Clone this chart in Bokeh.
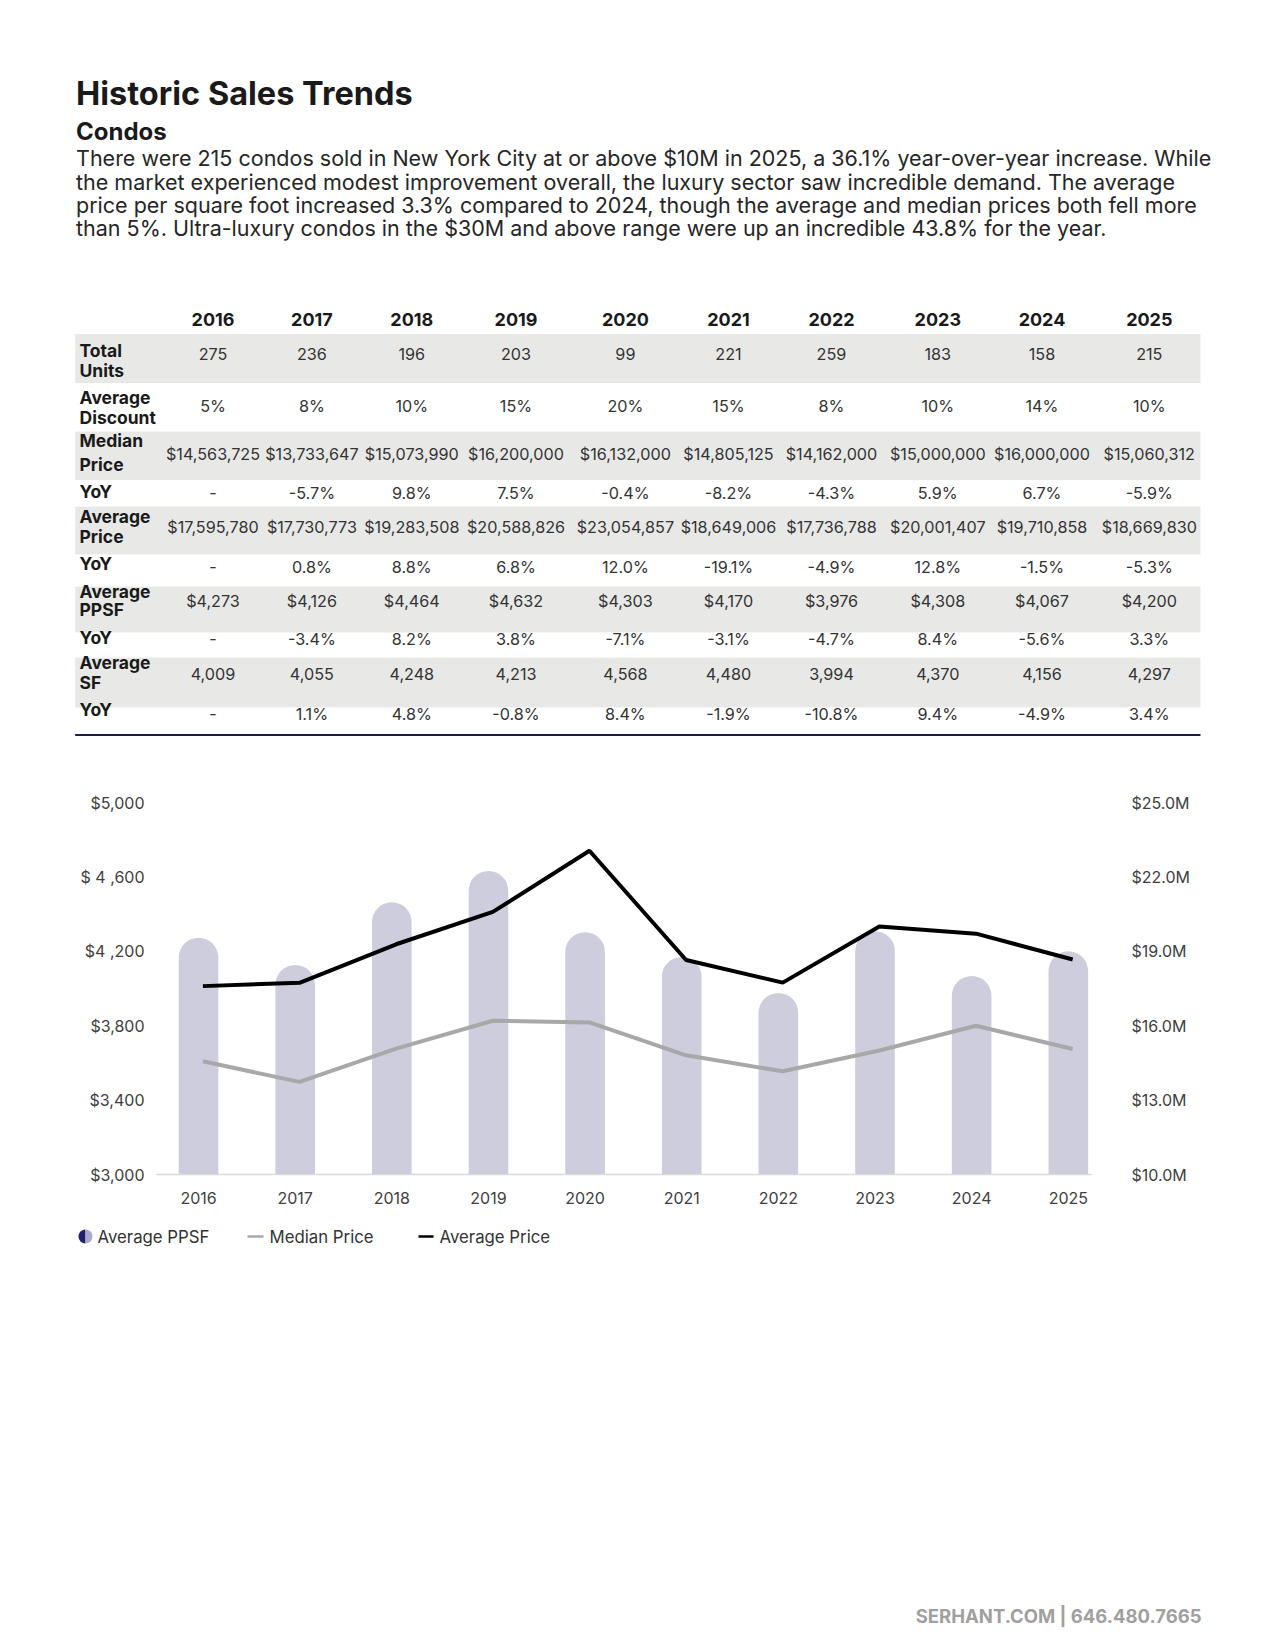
import math
from bokeh.plotting import figure
from bokeh.models import ColumnDataSource, Range1d, LinearAxis, FixedTicker
from bokeh.layouts import column
from bokeh.embed import file_html
from bokeh.resources import INLINE
from bokeh.core.properties import value
from bokeh.transform import dodge

FONT = "Inter"

# ---------------- data ----------------
years = [2016, 2017, 2018, 2019, 2020, 2021, 2022, 2023, 2024, 2025]
total_units = [275, 236, 196, 203, 99, 221, 259, 183, 158, 215]
avg_discount = [5, 8, 10, 15, 20, 15, 8, 10, 14, 10]
median_price = [14563725, 13733647, 15073990, 16200000, 16132000,
                14805125, 14162000, 15000000, 16000000, 15060312]
median_yoy = [None, -5.7, 9.8, 7.5, -0.4, -8.2, -4.3, 5.9, 6.7, -5.9]
avg_price = [17595780, 17730773, 19283508, 20588826, 23054857,
             18649006, 17736788, 20001407, 19710858, 18669830]
avg_price_yoy = [None, 0.8, 8.8, 6.8, 12.0, -19.1, -4.9, 12.8, -1.5, -5.3]
avg_ppsf = [4273, 4126, 4464, 4632, 4303, 4170, 3976, 4308, 4067, 4200]
ppsf_yoy = [None, -3.4, 8.2, 3.8, -7.1, -3.1, -4.7, 8.4, -5.6, 3.3]
avg_sf = [4009, 4055, 4248, 4213, 4568, 4480, 3994, 4370, 4156, 4297]
sf_yoy = [None, 1.1, 4.8, -0.8, 8.4, -1.9, -10.8, 9.4, -4.9, 3.4]

left_ticks = [3000, 3400, 3800, 4200, 4600, 5000]
left_tick_labels = ["$3,000", "$3,400", "$3,800", "$4 ,200", "$ 4 ,600", "$5,000"]
right_ticks = [10e6, 13e6, 16e6, 19e6, 22e6, 25e6]
right_tick_labels = ["$10.0M", "$13.0M", "$16.0M", "$19.0M", "$22.0M", "$25.0M"]

title = "Historic Sales Trends"
subtitle = "Condos"
paragraph = [
    "There were 215 condos sold in New York City at or above $10M in 2025, a 36.1% year-over-year increase. While",
    "the market experienced modest improvement overall, the luxury sector saw incredible demand. The average",
    "price per square foot increased 3.3% compared to 2024, though the average and median prices both fell more",
    "than 5%. Ultra-luxury condos in the $30M and above range were up an incredible 43.8% for the year.",
]
legend_labels = ["Average PPSF", "Median Price", "Average Price"]
footer = "SERHANT.COM | 646.480.7665"


def money(v):
    return f"${v:,}"


def pct(v):
    return "-" if v is None else f"{v:.1f}%"


table_rows = [
    (["Total", "Units"], [str(v) for v in total_units]),
    (["Average", "Discount"], [f"{v}%" for v in avg_discount]),
    (["Median", "Price"], [money(v) for v in median_price]),
    (["YoY"], [pct(v) for v in median_yoy]),
    (["Average", "Price"], [money(v) for v in avg_price]),
    (["YoY"], [pct(v) for v in avg_price_yoy]),
    (["Average", "PPSF"], [money(v) for v in avg_ppsf]),
    (["YoY"], [pct(v) for v in ppsf_yoy]),
    (["Average", "SF"], [f"{v:,}" for v in avg_sf]),
    (["YoY"], [pct(v) for v in sf_yoy]),
]

# ---------------- layout constants (page pixels, origin at top-left) ----------------
W = 1275
COL_X = [212.5, 311.4, 411.3, 515.5, 624.9, 728.0, 831.0, 937.3, 1041.5, 1148.8]
TABLE_L, TABLE_R = 74.7, 1200
# band top, band bottom, label line ys, value y
ROW_GEOM = [
    (333.5, 382.5, [350, 369.5], 353.5),
    (382.5, 431, [396.7, 416.7], 405),
    (431, 479.6, [440, 464], 453.3),
    (479.6, 506, [490.5], 492.7),
    (506, 554, [516, 536], 526.7),
    (554, 586, [563.3], 566.7),
    (586, 632, [591, 609], 600.7),
    (632, 657, [636.7], 638.3),
    (657, 707, [661.7, 681.7], 673.3),
    (707, 733, [709.3], 713.3),
]
BAND = "#E8E9E7"


def no_align(f):
    try:
        f.frame_align = False
    except AttributeError:
        pass


def blank_fig(y0, y1):
    f = figure(width=W, height=y1 - y0, x_range=Range1d(0, W),
               y_range=Range1d(y1, y0), output_backend="svg",
               toolbar_location=None, x_axis_location=None, y_axis_location=None,
               min_border=0, outline_line_color=None)
    f.grid.visible = False
    f.background_fill_color = "white"
    f.border_fill_color = "white"
    no_align(f)
    return f


# ---------------- top: heading + table ----------------
T0, T1 = 0, 770
top = blank_fig(T0, T1)

top.text(x=[75.5], y=[92.5], text=[title], text_font=value(FONT), text_font_size="32.5px",
         text_font_style="bold", text_baseline="middle", text_color="#1a1a1a")
top.text(x=[75.5], y=[130.5], text=[subtitle], text_font=value(FONT), text_font_size="24px",
         text_font_style="bold", text_baseline="middle", text_color="#1a1a1a")
para_y = [157.8 + i * 23.2 for i in range(len(paragraph))]
top.text(x=[75.5] * len(paragraph), y=para_y, text=paragraph, text_font=value(FONT),
         text_font_size="21.5px", text_baseline="middle", text_color="#262626")

# bands
gray_idx = [i for i in range(len(ROW_GEOM)) if i % 2 == 0]
top.quad(left=[TABLE_L] * len(gray_idx), right=[TABLE_R] * len(gray_idx),
         top=[ROW_GEOM[i][0] for i in gray_idx], bottom=[ROW_GEOM[i][1] for i in gray_idx],
         fill_color=BAND, line_color=None)
top.segment(x0=[TABLE_L], y0=[734.5], x1=[TABLE_R], y1=[734.5], line_color="#1b1b4f", line_width=2)

# header years
top.text(x=COL_X, y=[318.8] * len(years), text=[str(y) for y in years], text_font=value(FONT),
         text_font_size="18px", text_font_style="bold", text_align="center",
         text_baseline="middle", text_color="#1a1a1a")

lab_x, lab_y, lab_t = [], [], []
val_x, val_y, val_t = [], [], []
for (labels, vals), (bt, bb, ly, vy) in zip(table_rows, ROW_GEOM):
    for t, yy in zip(labels, ly):
        lab_x.append(79)
        lab_y.append(yy)
        lab_t.append(t)
    for cx, t in zip(COL_X, vals):
        val_x.append(cx)
        val_y.append(vy)
        val_t.append(t)

top.text(x=lab_x, y=lab_y, text=lab_t, text_font=value(FONT), text_font_size="17.5px",
         text_font_style="bold", text_baseline="middle", text_color="#1a1a1a")
top.text(x=val_x, y=val_y, text=val_t, text_font=value(FONT), text_font_size="16.2px",
         text_align="center", text_baseline="middle", text_color="#333333")

# ---------------- chart ----------------
C0, C1 = 770, 1215
src = ColumnDataSource(dict(year=years, ppsf=avg_ppsf, median=median_price, avg=avg_price))

chart = figure(width=W, height=C1 - C0, x_range=Range1d(2015.565, 2025.24),
               y_range=Range1d(3000, 5000), output_backend="svg", toolbar_location=None,
               min_border_left=156, min_border_right=184, min_border_top=32,
               min_border_bottom=41, outline_line_color=None)
no_align(chart)
chart.extra_y_ranges = {"price": Range1d(10e6, 25e6)}
chart.grid.visible = False

chart.vbar(x="year", top="ppsf", bottom=3000, width=0.41, source=src,
           fill_color="#CDCDDD", line_color=None, border_radius=(20, 20, 0, 0))
chart.line(x=dodge("year", 0.045), y="median", source=src, y_range_name="price",
           line_color="#A8A8A8", line_width=4)
chart.line(x=dodge("year", 0.045), y="avg", source=src, y_range_name="price",
           line_color="#000000", line_width=4)

xa = chart.xaxis[0]
xa.ticker = FixedTicker(ticks=years)
xa.major_label_overrides = {y: str(y) for y in years}
xa.axis_line_color = "#D9D9D9"
xa.axis_line_width = 1.5
xa.major_label_standoff = 17

ya = chart.yaxis[0]
ya.ticker = FixedTicker(ticks=left_ticks)
ya.major_label_overrides = dict(zip(left_ticks, left_tick_labels))
ya.major_label_standoff = 12

ra = LinearAxis(y_range_name="price", ticker=FixedTicker(ticks=right_ticks),
                major_label_overrides=dict(zip(right_ticks, right_tick_labels)))
ra.major_label_standoff = 40
chart.add_layout(ra, "right")

for ax in [xa, ya, ra]:
    ax.major_label_text_font = FONT
    ax.major_label_text_font_size = "16px"
    ax.major_label_text_color = "#404040"
    ax.major_tick_line_color = None
    ax.minor_tick_line_color = None
    ax.major_tick_out = 0
    ax.major_tick_in = 0
    ax.minor_tick_out = 0
for ax in [ya, ra]:
    ax.axis_line_color = None

# ---------------- bottom: legend + footer ----------------
B0, B1 = 1215, 1645
bot = blank_fig(B0, B1)
LY = 1236
bot.wedge(x=[85], y=[LY], radius=7, start_angle=math.pi / 2, end_angle=3 * math.pi / 2,
          fill_color="#20206A", line_color=None)
bot.wedge(x=[85], y=[LY], radius=7, start_angle=-math.pi / 2, end_angle=math.pi / 2,
          fill_color="#A9A9CF", line_color=None)
bot.segment(x0=[247], y0=[LY], x1=[263], y1=[LY], line_color="#A8A8A8", line_width=2.5)
bot.segment(x0=[418], y0=[LY], x1=[433], y1=[LY], line_color="#000000", line_width=2.5)
bot.text(x=[97, 269, 439], y=[LY] * 3, text=legend_labels,
         text_font=value(FONT), text_font_size="16.8px", text_baseline="middle",
         text_color="#333333")

bot.text(x=[1201], y=[1615], text=[footer], text_font=value(FONT), text_font_size="18.5px",
         text_font_style="bold", text_align="right", text_baseline="middle",
         text_color="#A0A0A0")

layout = column(top, chart, bot)
open("out.html", "w").write(file_html(layout, INLINE))
